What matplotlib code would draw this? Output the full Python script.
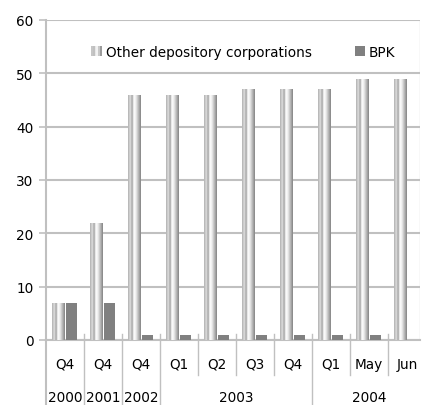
import matplotlib
matplotlib.use("Agg")
import matplotlib.pyplot as plt
import numpy as np
from matplotlib.colors import LinearSegmentedColormap
from matplotlib.legend_handler import HandlerPatch
from matplotlib.patches import Rectangle

quarters = ["Q4", "Q4", "Q4", "Q1", "Q2", "Q3", "Q4", "Q1", "May", "Jun"]
years = ["2000", "2001", "2002", "2003", "2004"]
year_spans = [1, 1, 1, 4, 3]
other_dc = [7, 22, 46, 46, 46, 47, 47, 47, 49, 49]
bpk = [7, 7, 1, 1, 1, 1, 1, 1, 1, 0]

plt.rcParams["font.family"] = ["DejaVu Sans"]
plt.rcParams["font.size"] = 8.5

grid_c = "#c0c0c0"
silver = LinearSegmentedColormap.from_list(
    "silver",
    [(0.0, "#b0b0b0"), (0.18, "#e0e0e0"), (0.32, "#a0a0a0"), (0.45, "#ffffff"),
     (0.6, "#f0f0f0"), (0.8, "#bcbcbc"), (1.0, "#848484")])
grad = np.linspace(0, 1, 64).reshape(1, -1)


class SilverHandler(HandlerPatch):
    def create_artists(self, legend, orig_handle, xdescent, ydescent,
                       width, height, fontsize, trans):
        w = height * 1.1
        x0 = -xdescent + width - w
        arts = []
        n = 6
        for i in range(n):
            c = silver((i + 0.5) / n)
            r = Rectangle((x0 + i * w / n, -ydescent), w / n, height,
                          facecolor=c, edgecolor="none", transform=trans)
            arts.append(r)
        return arts


class SquareHandler(HandlerPatch):
    def create_artists(self, legend, orig_handle, xdescent, ydescent,
                       width, height, fontsize, trans):
        w = height * 1.0
        r = Rectangle((-xdescent + width - w, -ydescent), w, height,
                      facecolor="#808080", edgecolor="none", transform=trans)
        return [r]


fig = plt.figure(figsize=(4.25, 4.06), dpi=100)
ax = fig.add_axes([46 / 425, 1 - 341 / 406, (420 - 46) / 425, 320 / 406])

x = np.arange(len(quarters))
w = 0.33
bars = ax.bar(x - 0.17, other_dc, w, color="none", edgecolor="none", zorder=3)
for b in bars:
    bx, by = b.get_x(), b.get_y()
    bw, bh = b.get_width(), b.get_height()
    im = ax.imshow(grad, cmap=silver, aspect="auto", interpolation="bilinear",
                   extent=(bx, bx + bw, by, by + bh), zorder=3)
    im.set_clip_path(b)
ax.bar(x + 0.18, bpk, 0.29, color="#808080", edgecolor="none", zorder=3)

ax.set_xlim(-0.5, 9.34)
ax.set_ylim(0, 60)
ax.set_yticks(range(0, 61, 10))
ax.yaxis.grid(True, color=grid_c, linewidth=1.5, zorder=0)
ax.tick_params(axis="y", length=5, color=grid_c, width=1.2, pad=4, labelsize=9.8)
for s in ["top", "right"]:
    ax.spines[s].set_visible(False)
ax.spines["left"].set_color(grid_c)
ax.spines["left"].set_linewidth(1.5)
ax.spines["bottom"].set_color(grid_c)
ax.spines["bottom"].set_linewidth(1.5)
ax.set_xticks([])
ax.axvline(9.34, color="#e0e0e0", linewidth=1, zorder=1)

# category labels (two levels)
trans = ax.get_xaxis_transform()
for i, q in enumerate(quarters):
    ax.text(i, -24 / 320, q, transform=trans, ha="center", va="center",
            fontsize=9.8, clip_on=False)
boundaries = np.cumsum([0] + year_spans)
ax.plot([-0.5, -0.5], [0, -70 / 320], transform=trans, color=grid_c,
        linewidth=1.5, clip_on=False)
for i in range(1, len(quarters)):
    long = i in boundaries
    ax.plot([i - 0.5, i - 0.5], [6 / 320, -(70 if long else 35) / 320],
            transform=trans, color=grid_c, linewidth=1, clip_on=False)
for yr, a, b in zip(years, boundaries[:-1], boundaries[1:]):
    ax.text((a + b - 1) / 2, -57 / 320, yr, transform=trans, ha="center",
            va="center", fontsize=9.8, clip_on=False)

h1 = Rectangle((0, 0), 1, 1)
h2 = Rectangle((0, 0), 1, 1)
leg = ax.legend([h1, h2], ["Other depository corporations", "BPK"],
                handler_map={h1: SilverHandler(), h2: SquareHandler()},
                loc="center", bbox_to_anchor=(0.525, 0.90), ncol=2,
                frameon=False, fontsize=9.8, handlelength=0.9,
                handletextpad=0.3, columnspacing=3.0)
leg.set_zorder(5)

fig.savefig("out.png", dpi=100)
